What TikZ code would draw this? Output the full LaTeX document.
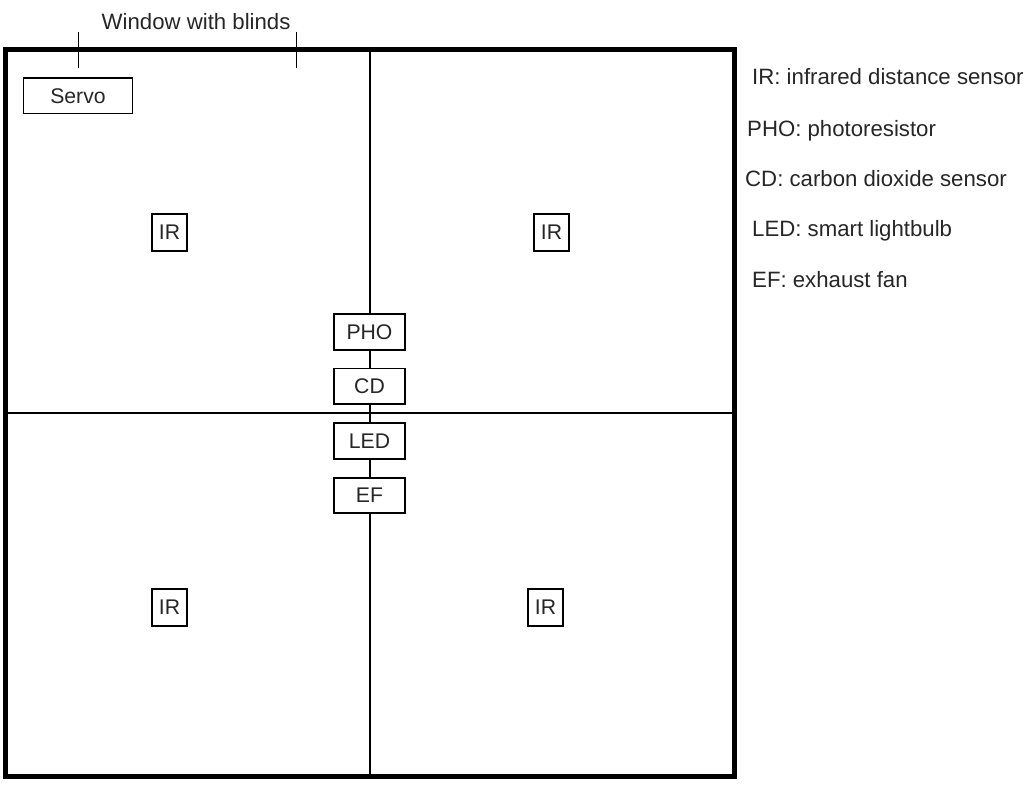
\documentclass[tikz,border=0pt]{standalone}
\usepackage{fontspec}
\setmainfont{Liberation Sans}
\begin{document}
\begin{tikzpicture}[x=1pt,y=-1pt,
  boxfont/.style={font=\fontsize{21.2}{24}\selectfont},
  labfont/.style={font=\fontsize{22.2}{25}\selectfont},
  sensor/.style={draw, line width=1.6pt, fill=white, inner sep=0pt, boxfont, text=black!85},
  irbox/.style={sensor, minimum width=35.5pt, minimum height=37.5pt},
  midbox/.style={sensor, minimum width=71.5pt, minimum height=35.5pt},
  legend/.style={anchor=base west, inner sep=0pt, labfont, text=black!85},
  wall/.style={line width=5pt},
  divider/.style={line width=2.8pt},
  tick/.style={line width=1.6pt}
]
\useasboundingbox (0,0) rectangle (1031,791);
% outer room
\coordinate (NW) at (5.5,49.5);
\coordinate (SE) at (734,776.5);
\coordinate (Ntop) at (370,49.5);
\coordinate (Sbot) at (370,776.5);
\coordinate (Wmid) at (5.5,413);
\coordinate (Emid) at (734,413);
\draw[divider] (Ntop) -- (Sbot);
\draw[divider] (Wmid) -- (Emid);
\draw[wall] (NW) rectangle (SE);
% window ticks
\coordinate (w1a) at (78.3,31.7);
\coordinate (w1b) at (78.3,68.3);
\coordinate (w2a) at (296.5,31.7);
\coordinate (w2b) at (296.5,68.3);
\draw[tick] (w1a) -- (w1b);
\draw[tick] (w2a) -- (w2b);
\node[legend] (window) at (101.5,30) {Window with blinds};
% servo
\node[sensor, minimum width=109pt, minimum height=35.5pt] (servo) at (78,95.8) {Servo};
% IR sensors
\node[irbox] (ir1) at (169.5,232.5) {IR};
\node[irbox] (ir2) at (551.5,232.5) {IR};
\node[irbox] (ir3) at (169.5,607.5) {IR};
\node[irbox] (ir4) at (545.5,607.5) {IR};
% centre sensors
\node[midbox] (pho) at (369.5,332) {PHO};
\node[midbox] (cd) at (369.5,386.3) {CD};
\node[midbox] (led) at (369.5,441) {LED};
\node[midbox] (ef) at (369.5,495.5) {EF};
% legend
\node[legend] (l1) at (752,85) {IR: infrared distance sensor};
\node[legend] (l2) at (747,136.5) {PHO: photoresistor};
\node[legend] (l3) at (745,186.5) {CD: carbon dioxide sensor};
\node[legend] (l4) at (752,236.5) {LED: smart lightbulb};
\node[legend] (l5) at (752,288) {EF: exhaust fan};
\end{tikzpicture}
\end{document}
